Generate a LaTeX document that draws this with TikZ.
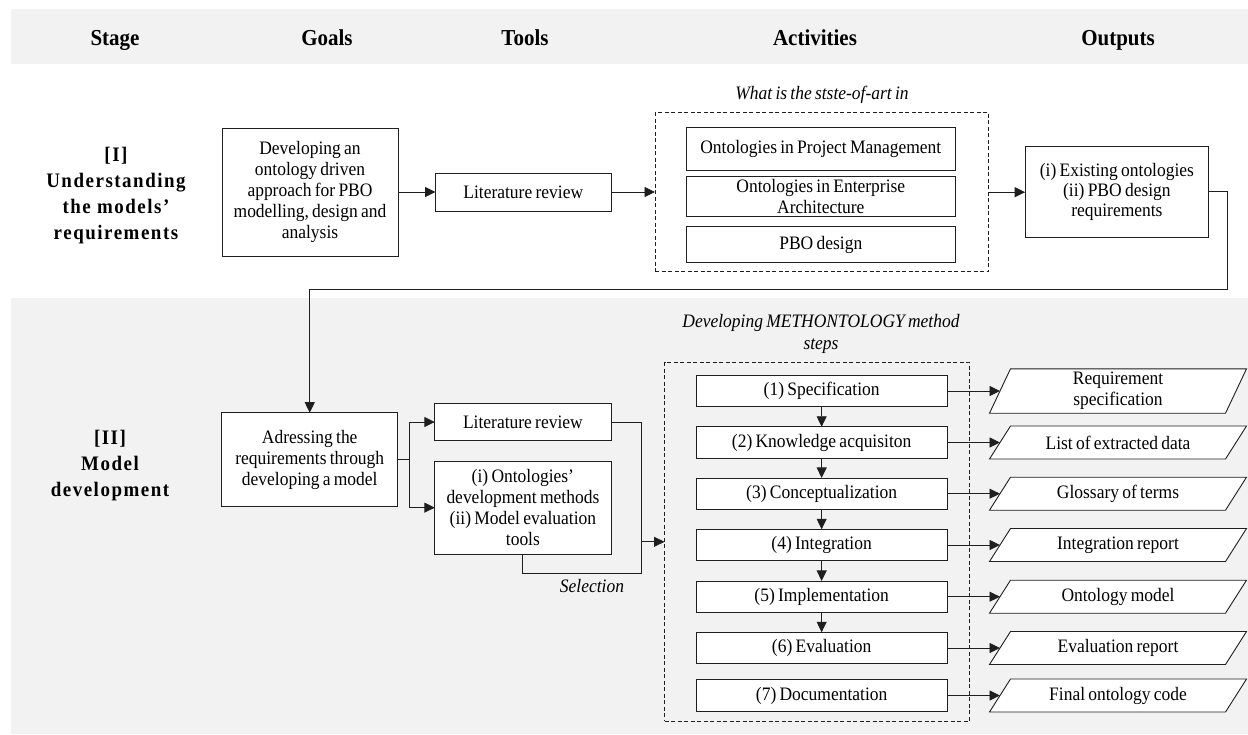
\documentclass[tikz,border=0pt]{standalone}
\usepackage{fontspec}
\setmainfont{Liberation Serif}[WordSpace=0.75, FakeStretch=0.92]
\newfontfamily\stagefont{Liberation Serif}[LetterSpace=7.4, FakeStretch=0.92]
\usetikzlibrary{arrows.meta,calc}
\definecolor{bandgray}{HTML}{F2F2F2}
\definecolor{linec}{HTML}{1F1F1F}
\pgfdeclarelayer{back}
\pgfdeclarelayer{bg}
\pgfsetlayers{back,bg,main}
\begin{document}
\begin{tikzpicture}[x=1pt,y=-1pt,
  every node/.style={inner sep=0pt, outer sep=0pt},
  txt/.style={font=\fontsize{19}{21}\selectfont, align=center},
  box/.style={txt, draw=linec, line width=0.9pt, fill=white, rectangle},
  dbox/.style={draw=linec, line width=0.8pt, dash pattern=on 4pt off 2.5pt, rectangle},
  hdr/.style={font=\fontsize{22.8}{25}\selectfont\bfseries},
  stagelab/.style={font=\stagefont\fontsize{20.6}{26}\selectfont\bfseries, align=center},
  ital/.style={font=\fontsize{19}{22}\selectfont\itshape, align=center},
  arr/.style={draw=linec, line width=0.9pt, -{Triangle[length=10.5pt,width=10pt]}},
  ln/.style={draw=linec, line width=0.9pt},
  stepbox/.style={box, minimum width=251.3pt, minimum height=31.5pt},
  outp/.style={txt, minimum width=236pt, minimum height=33pt},
]
\useasboundingbox (0,0) rectangle (1248,734);

\begin{pgfonlayer}{back}
\fill[bandgray] (11,9) rectangle (1248,64.3);
\fill[bandgray] (10.5,298.3) rectangle (1248,734);
\end{pgfonlayer}

% header
\node[hdr, anchor=base] (hstage) at (115,45.5) {Stage};
\node[hdr, anchor=base] (hgoals) at (327,45.5) {Goals};
\node[hdr, anchor=base] (htools) at (525,45.5) {Tools};
\node[hdr, anchor=base] (hact) at (815,45.5) {Activities};
\node[hdr, anchor=base] (hout) at (1118,45.5) {Outputs};

% stage I
\node[ital] (q1) at (822,95) {What is the stste-of-art in};
\node[stagelab] (st1) at (116,196) {[I]\\Understanding\\the models’\\requirements};
\node[box, minimum width=176pt, minimum height=128pt] (goal1) at (310,192) {Developing an\\ontology driven\\approach for PBO\\modelling, design and\\analysis};
\node[box, minimum width=175.5pt, minimum height=38pt] (lit1) at (523.25,192) {Literature review};
\node[dbox, minimum width=333.5pt, minimum height=159pt] (dash1) at (821.75,192.2) {};
\node[box, minimum width=269.6pt, minimum height=43pt] (pm) at (820.8,148.5) {Ontologies in Project Management};
\node[box, minimum width=269.6pt, minimum height=40pt] (ea) at (820.8,196.7) {Ontologies in Enterprise\\Architecture};
\node[box, minimum width=269.6pt, minimum height=36pt] (pbo) at (820.8,244.7) {PBO design};
\node[box, minimum width=183.5pt, minimum height=90.8pt, font=\fontsize{19}{20}\selectfont] (out1) at (1116.9,191.9) {(i) Existing ontologies\\(ii) PBO design\\requirements};

% stage II
\node[stagelab] (st2) at (110,466) {[II]\\Model\\development};
\node[box, minimum width=175.9pt, minimum height=94pt] (adr) at (309.75,459.7) {Adressing the\\requirements through\\developing a model};
\node[box, minimum width=176.2pt, minimum height=37.4pt] (lit2) at (522.9,422) {Literature review};
\node[box, minimum width=176.2pt, minimum height=93.3pt] (meth) at (522.9,507.65) {(i) Ontologies’\\development methods\\(ii) Model evaluation\\tools};
\node[ital] (sel) at (592,586) {Selection};
\node[ital] (q2) at (821,334) {Developing METHONTOLOGY method\\steps};
\node[dbox, minimum width=304.8pt, minimum height=359pt] (dash2) at (816.9,541.8) {};

\node[stepbox] (s1) at (821.65,391) {(1) Specification};
\node[stepbox] (s2) at (821.65,442.5) {(2) Knowledge acquisiton};
\node[stepbox] (s3) at (821.65,493.7) {(3) Conceptualization};
\node[stepbox] (s4) at (821.65,545) {(4) Integration};
\node[stepbox] (s5) at (821.65,596.7) {(5) Implementation};
\node[stepbox] (s6) at (821.65,648) {(6) Evaluation};
\node[stepbox] (s7) at (821.65,695.5) {(7) Documentation};

\node[outp, minimum height=44.4pt] (p1) at (1118,391) {Requirement\\specification};
\node[outp] (p2) at (1118,442.5) {List of extracted data};
\node[outp] (p3) at (1118,493.7) {Glossary of terms};
\node[outp] (p4) at (1118,545) {Integration report};
\node[outp] (p5) at (1118,596.7) {Ontology model};
\node[outp] (p6) at (1118,648) {Evaluation report};
\node[outp] (p7) at (1118,695.5) {Final ontology code};

\begin{pgfonlayer}{bg}
\foreach \i in {1,...,7}
  \draw[ln, fill=white] ($(p\i.north west)+(10.5,0)$) -- ($(p\i.north east)+(10.5,0)$) -- ($(p\i.south east)+(-10.5,0)$) -- ($(p\i.south west)+(-10.5,0)$) -- cycle;
\end{pgfonlayer}

% connectors stage I
\draw[arr] (goal1.east) -- (lit1.west);
\draw[arr] (lit1.east) -- (lit1.east -| dash1.west);
\draw[arr] (dash1.east) -- (dash1.east -| out1.west);
\coordinate (c1) at (1227.3,289);
\draw[arr] (out1.east) -| (c1) -| (adr.north);

% connectors stage II
\coordinate (fork) at (409,459.7);
\draw[ln] (adr.east) -- (fork);
\draw[arr] (fork) |- (lit2.west);
\draw[arr] (fork) |- (meth.west);
\coordinate (sjoin) at (641,573.3);
\draw[ln] (lit2.east) -| (sjoin) -| (meth.south);
\coordinate (sel0) at (641,541.8);
\draw[arr] (sel0) -- (dash2.west);

\foreach \a/\b in {s1/s2,s2/s3,s3/s4,s4/s5,s5/s6}
  \draw[arr] (\a.south) -- (\b.north);
\foreach \i in {1,...,7}
  \draw[arr] (s\i.east) -- (p\i.west);
\end{tikzpicture}
\end{document}
